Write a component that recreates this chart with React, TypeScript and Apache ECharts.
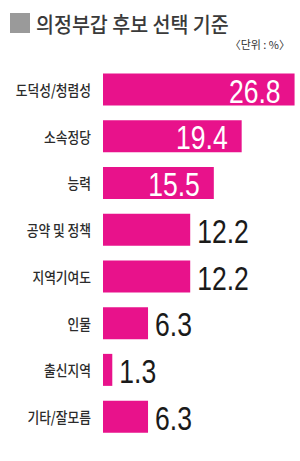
import React, { useEffect, useRef } from "react";
import * as echarts from "echarts";

const title = "의정부갑 후보 선택 기준";
const unitText = "〈단위 : %〉";
const categories = ["도덕성/청렴성", "소속정당", "능력", "공약 및 정책", "지역기여도", "인물", "출신지역", "기타/잘모름"];
const values = [26.8, 19.4, 15.5, 12.2, 12.2, 6.3, 1.3, 6.3];
const insideFlags = [true, true, true, false, false, false, false, false];

const BAR = "#E8128B";
const NUM_FONT = "'Liberation Sans', Arial, sans-serif";
const KR_FONT = "'Noto Sans CJK KR', 'Noto Sans', sans-serif";

export default function App() {
  const ref = useRef<HTMLDivElement>(null);
  useEffect(() => {
    if (!ref.current) return;
    const chart = echarts.init(ref.current, null, { renderer: "svg" });
    const labelData = values.map((v, i) => [v, i, insideFlags[i] ? 1 : 0]);
    const catData = categories.map((c, i) => [0, i]);
    chart.setOption({
      animation: false,
      backgroundColor: "#ffffff",
      grid: { left: 103, right: 4, top: 66, bottom: 21, containLabel: false },
      xAxis: { type: "value", min: 0, max: 27, show: false },
      yAxis: {
        type: "category",
        data: categories,
        inverse: true,
        axisLine: { show: false },
        axisTick: { show: false },
        splitLine: { show: false },
        axisLabel: { show: false },
      },
      series: [
        {
          type: "bar",
          data: values,
          barWidth: 32,
          z: 2,
          itemStyle: { color: BAR },
        },
        {
          type: "custom",
          data: labelData,
          encode: { x: 0, y: 1 },
          silent: true,
          z: 10,
          renderItem: (params: any, api: any) => {
            const v = api.value(0);
            const idx = api.value(1);
            const inside = api.value(2) === 1;
            const p = api.coord([v, idx]);
            return {
              type: "text",
              x: inside ? p[0] - 14 : p[0] + 7,
              y: p[1] + 1,
              scaleX: 0.78,
              z2: 100,
              style: {
                text: String(v),
                fontSize: 34,
                fontFamily: NUM_FONT,
                fill: inside ? "#ffffff" : "#1a1a1a",
                align: inside ? "right" : "left",
                verticalAlign: "middle",
              },
            };
          },
        },
        {
          type: "custom",
          data: catData,
          encode: { x: 0, y: 1 },
          silent: true,
          z: 10,
          renderItem: (params: any, api: any) => {
            const idx = api.value(1);
            const p = api.coord([0, idx]);
            return {
              type: "text",
              x: p[0] - 12,
              y: p[1],
              scaleX: 0.85,
              style: {
                text: categories[idx],
                fontSize: 15,
                fontFamily: KR_FONT,
                fontWeight: 500,
                fill: "#2b2b2b",
                align: "right",
                verticalAlign: "middle",
              },
            };
          },
        },
      ],
      graphic: [
        { type: "rect", shape: { x: 10, y: 13, width: 20, height: 20 }, style: { fill: "#9a9a9a" } },
        {
          type: "text",
          x: 36,
          y: 23,
          scaleX: 0.93,
          style: {
            text: title,
            fontSize: 21,
            fontFamily: KR_FONT,
            fontWeight: 500,
            fill: "#3a3a3a",
            verticalAlign: "middle",
          },
        },
        {
          type: "text",
          x: 290,
          y: 44,
          style: {
            text: unitText,
            fontSize: 11,
            fontFamily: KR_FONT,
            fill: "#333333",
            align: "right",
            verticalAlign: "middle",
          },
        },
      ],
    });
    return () => chart.dispose();
  }, []);
  return (
    <div
      ref={ref}
      style={{ position: "fixed", left: 0, top: 0, width: 300, height: 461, background: "#fff" }}
    />
  );
}
